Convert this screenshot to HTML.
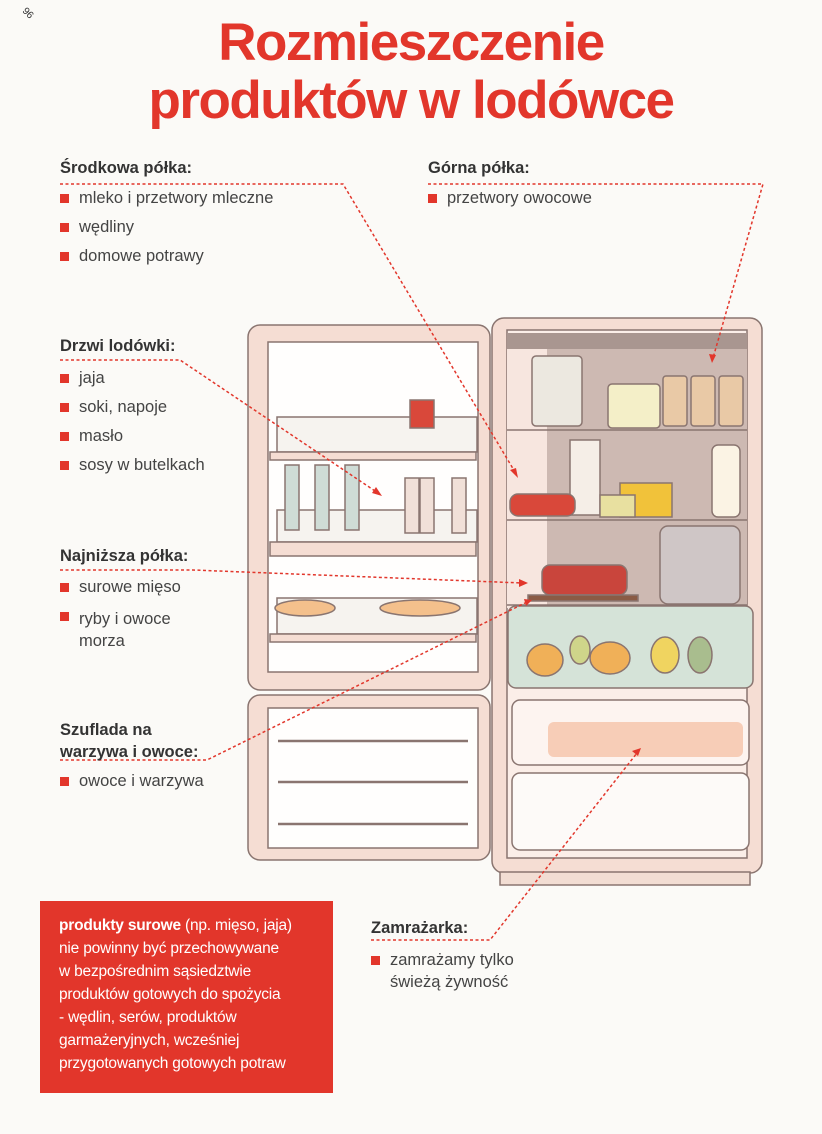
<!DOCTYPE html>
<html><head><meta charset="utf-8"><style>
body{margin:0;width:822px;height:1134px;background:#fbfaf7;position:relative;overflow:hidden;font-family:"Liberation Sans",sans-serif;}
.t{position:absolute;color:#e2362b;font-weight:bold;font-size:53px;letter-spacing:-1.5px;width:822px;text-align:center;left:0;}
.h{position:absolute;font-weight:bold;font-size:16.5px;color:#333;}
.b{position:absolute;font-size:16.5px;color:#444;line-height:29px;}
.b div{position:relative;padding-left:19px;}
.b div:before{content:"";position:absolute;left:0;top:10px;width:9px;height:9px;background:#e2362b;}
.box{position:absolute;left:40px;top:901px;width:293px;height:192px;background:#e2362b;color:#fff;font-size:15.5px;line-height:23px;box-sizing:border-box;padding:13px 0 0 19px;white-space:nowrap;letter-spacing:-0.2px;}
svg{position:absolute;left:0;top:0;}
</style></head><body>
<div class="t" style="top:12px;">Rozmieszczenie</div>
<div class="t" style="top:70px;">produktów w lodówce</div>
<div style="position:absolute;left:22px;top:8px;font-size:10px;color:#333;transform:rotate(45deg)">96</div>

<svg width="822" height="1134" viewBox="0 0 822 1134">
<g stroke="#8a7570" stroke-width="1.5">
<rect x="492" y="318" width="270" height="555" rx="12" fill="#f5ddd3"/>
<rect x="507" y="330" width="240" height="528" fill="#fbeee8"/>
<rect x="507" y="333" width="240" height="100" fill="#cdb9b2" stroke="none"/>
<rect x="507" y="433" width="240" height="90" fill="#cdb9b2" stroke="none"/>
<rect x="507" y="523" width="240" height="85" fill="#cdb9b2" stroke="none"/>
<rect x="507" y="333" width="40" height="275" fill="#f7e6df" stroke="none"/>
<rect x="507" y="333" width="240" height="16" fill="#a99690" stroke="none"/>
<line x1="507" y1="430" x2="747" y2="430"/><line x1="507" y1="520" x2="747" y2="520"/><line x1="507" y1="605" x2="747" y2="605"/>
<rect x="508" y="606" width="245" height="82" rx="8" fill="#d5e3d8"/>
<rect x="512" y="700" width="237" height="65" rx="8" fill="#fdf4f0"/>
<rect x="512" y="773" width="237" height="77" rx="8" fill="#fdfaf8"/>
<rect x="500" y="872" width="250" height="13" fill="#f2ddd3"/>
<rect x="532" y="356" width="50" height="70" rx="4" fill="#ece8e0"/>
<rect x="608" y="384" width="52" height="44" rx="4" fill="#f4efc8"/>
<rect x="663" y="376" width="24" height="50" rx="3" fill="#e9c9a6"/>
<rect x="691" y="376" width="24" height="50" rx="3" fill="#e9c9a6"/>
<rect x="719" y="376" width="24" height="50" rx="3" fill="#e9c9a6"/>
<rect x="570" y="440" width="30" height="75" fill="#f5eee7"/>
<rect x="510" y="494" width="65" height="22" rx="8" fill="#d9483a"/>
<rect x="620" y="483" width="52" height="34" fill="#f1c23a"/>
<rect x="600" y="495" width="35" height="22" fill="#e8e0a0"/>
<rect x="712" y="445" width="28" height="72" rx="6" fill="#fbf3e4"/>
<rect x="542" y="565" width="85" height="30" rx="8" fill="#c9453c"/>
<rect x="528" y="595" width="110" height="6" fill="#8a5b45"/>
<rect x="660" y="526" width="80" height="78" rx="8" fill="#cfc6c6"/>
<ellipse cx="545" cy="660" rx="18" ry="16" fill="#f0b058"/>
<ellipse cx="610" cy="658" rx="20" ry="16" fill="#f0b058"/>
<ellipse cx="580" cy="650" rx="10" ry="14" fill="#cfd58a"/>
<ellipse cx="665" cy="655" rx="14" ry="18" fill="#f0d460"/>
<ellipse cx="700" cy="655" rx="12" ry="18" fill="#a9bd8e"/>
<rect x="548" y="722" width="195" height="35" rx="6" fill="#f7cdb7" stroke="none"/>
<rect x="248" y="325" width="242" height="365" rx="12" fill="#f5ddd3"/>
<rect x="268" y="342" width="210" height="330" fill="#fffefd"/>
<rect x="277" y="417" width="200" height="35" fill="#f6f3ef"/>
<rect x="270" y="452" width="206" height="8" fill="#f5ddd3"/>
<rect x="277" y="510" width="200" height="32" fill="#f6f3ef"/>
<rect x="270" y="542" width="206" height="14" fill="#f5ddd3"/>
<rect x="277" y="598" width="200" height="36" fill="#f6f3ef"/>
<rect x="270" y="634" width="206" height="8" fill="#f5ddd3"/>
<path d="M285 465 h14 v65 h-14z M315 465 h14 v65 h-14z M345 465 h14 v65 h-14z" fill="#cfdcd6"/>
<path d="M405 478 h14 v55 h-14z M420 478 h14 v55 h-14z M452 478 h14 v55 h-14z" fill="#f1e0d8"/>
<rect x="410" y="400" width="24" height="28" fill="#d9483a"/>
<ellipse cx="305" cy="608" rx="30" ry="8" fill="#f4c08c"/>
<ellipse cx="420" cy="608" rx="40" ry="8" fill="#f4c08c"/>
<rect x="248" y="695" width="242" height="165" rx="12" fill="#f5ddd3"/>
<rect x="268" y="708" width="210" height="140" fill="#fffefd"/>
<line x1="278" y1="741" x2="468" y2="741" stroke-width="2.5"/>
<line x1="278" y1="782" x2="468" y2="782" stroke-width="2.5"/>
<line x1="278" y1="824" x2="468" y2="824" stroke-width="2.5"/>
</g>
<g fill="none" stroke="#e2362b" stroke-width="1.5" stroke-dasharray="3 2.5">
<polyline points="60,184 343,184 515,472"/>
<polyline points="428,184 763,184 713,358"/>
<polyline points="60,360 180,360 378,493"/>
<polyline points="60,570 193,570 522,583"/>
<polyline points="60,760 207,760 527,602"/>
<polyline points="371,940 490,940 637,753"/>
</g>
<g fill="#e2362b">
<polygon points="518,478 510,470 516,468"/>
<polygon points="712,363 709,354 716,355"/>
<polygon points="382,496 372,493 376,487"/>
<polygon points="528,583 519,587 519,579"/>
<polygon points="532,600 524,599 526,606"/>
<polygon points="641,748 632,751 638,756"/>
</g>
</svg>

<div class="h" style="left:60px;top:159px;">Środkowa półka:</div>
<div class="b" style="left:60px;top:184px;"><div>mleko i przetwory mleczne</div><div>wędliny</div><div>domowe potrawy</div></div>
<div class="h" style="left:428px;top:159px;">Górna półka:</div>
<div class="b" style="left:428px;top:184px;"><div>przetwory owocowe</div></div>
<div class="h" style="left:60px;top:337px;">Drzwi lodówki:</div>
<div class="b" style="left:60px;top:364px;"><div>jaja</div><div>soki, napoje</div><div>masło</div><div>sosy w butelkach</div></div>
<div class="h" style="left:60px;top:547px;">Najniższa półka:</div>
<div class="b" style="left:60px;top:573px;"><div>surowe mięso</div><div style="line-height:22px;padding-top:6px;">ryby i owoce<br>morza</div></div>
<div class="h" style="left:60px;top:719px;line-height:22px;">Szuflada na<br>warzywa i owoce:</div>
<div class="b" style="left:60px;top:767px;"><div>owoce i warzywa</div></div>
<div class="h" style="left:371px;top:919px;">Zamrażarka:</div>
<div class="b" style="left:371px;top:946px;"><div style="line-height:22px;padding-top:3px;">zamrażamy tylko<br>świeżą żywność</div></div>
<div class="box"><b>produkty surowe</b> (np. mięso, jaja)<br>nie powinny być przechowywane<br>w bezpośrednim sąsiedztwie<br>produktów gotowych do spożycia<br>- wędlin, serów, produktów<br>garmażeryjnych, wcześniej<br>przygotowanych gotowych potraw</div>
</body></html>
